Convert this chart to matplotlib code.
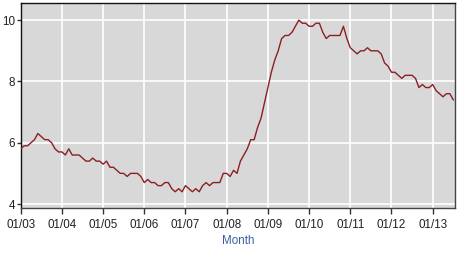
import matplotlib
matplotlib.use("Agg")
import matplotlib.pyplot as plt
import numpy as np

# Monthly rate, Jan 2003 .. Jul 2013
y2003 = [5.8, 5.9, 5.9, 6.0, 6.1, 6.3, 6.2, 6.1, 6.1, 6.0, 5.8, 5.7]
y2004 = [5.7, 5.6, 5.8, 5.6, 5.6, 5.6, 5.5, 5.4, 5.4, 5.5, 5.4, 5.4]
y2005 = [5.3, 5.4, 5.2, 5.2, 5.1, 5.0, 5.0, 4.9, 5.0, 5.0, 5.0, 4.9]
y2006 = [4.7, 4.8, 4.7, 4.7, 4.6, 4.6, 4.7, 4.7, 4.5, 4.4, 4.5, 4.4]
y2007 = [4.6, 4.5, 4.4, 4.5, 4.4, 4.6, 4.7, 4.6, 4.7, 4.7, 4.7, 5.0]
y2008 = [5.0, 4.9, 5.1, 5.0, 5.4, 5.6, 5.8, 6.1, 6.1, 6.5, 6.8, 7.3]
y2009 = [7.8, 8.3, 8.7, 9.0, 9.4, 9.5, 9.5, 9.6, 9.8, 10.0, 9.9, 9.9]
y2010 = [9.8, 9.8, 9.9, 9.9, 9.6, 9.4, 9.5, 9.5, 9.5, 9.5, 9.8, 9.4]
y2011 = [9.1, 9.0, 8.9, 9.0, 9.0, 9.1, 9.0, 9.0, 9.0, 8.9, 8.6, 8.5]
y2012 = [8.3, 8.3, 8.2, 8.1, 8.2, 8.2, 8.2, 8.1, 7.8, 7.9, 7.8, 7.8]
y2013 = [7.9, 7.7, 7.6, 7.5, 7.6, 7.6, 7.4]

values = y2003 + y2004 + y2005 + y2006 + y2007 + y2008 + y2009 + y2010 + y2011 + y2012 + y2013
xtick_labels = ["01/03", "01/04", "01/05", "01/06", "01/07", "01/08",
                "01/09", "01/10", "01/11", "01/12", "01/13"]
ytick_values = [4, 6, 8, 10]

plt.rcParams['font.family'] = ['Liberation Sans', 'DejaVu Sans']

fig = plt.figure(figsize=(4.61, 2.59), dpi=100)
ax = fig.add_axes([20.7/461, 1-208/259, (455-20.7)/461, (208-3)/259])
ax.set_facecolor('#d8d8d8')

months = np.arange(len(values))
ax.plot(months, values, color='#8b1f24', lw=1.0, zorder=3)

ax.set_xlim(0, len(values) - 0.5)
ax.set_ylim(3.87, 10.56)
ax.set_xticks(np.arange(len(xtick_labels)) * 12)
ax.set_xticklabels(xtick_labels)
ax.set_yticks(ytick_values)
ax.set_yticklabels([str(v) for v in ytick_values])

ax.grid(True, color='white', lw=1.2, zorder=1)
ax.set_axisbelow(True)

ax.tick_params(axis='x', length=4, width=1, color='#333333', pad=4, labelsize=8.4, labelcolor='#222222')
ax.tick_params(axis='y', length=3, width=1, color='#333333', pad=1, labelsize=8.4, labelcolor='#222222')

for s in ['left', 'top']:
    ax.spines[s].set_color('#111111')
for s in ['bottom', 'right']:
    ax.spines[s].set_color('#444444')
for s in ax.spines.values():
    s.set_linewidth(1.0)

ax.set_xlabel('Month', color='#3a5fa0', fontsize=8.4, labelpad=3)

fig.savefig('out.png', dpi=100)
